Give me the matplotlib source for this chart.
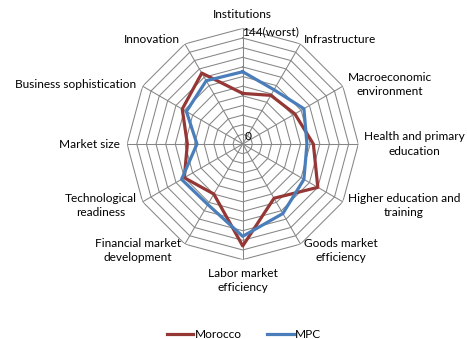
import numpy as np
import matplotlib
matplotlib.use("Agg")
import matplotlib.pyplot as plt

plt.rcParams['font.family'] = ['Lato', 'DejaVu Sans']

# pillars of the index, clockwise from the top
categories = ["Institutions", "Infrastructure", "Macroeconomic\nenvironment",
              "Health and primary\neducation", "Higher education and\ntraining",
              "Goods market\nefficiency", "Labor market\nefficiency",
              "Financial market\ndevelopment", "Technological\nreadiness",
              "Market size", "Business sophistication", "Innovation"]
morocco = [63, 70, 75, 88, 108, 78, 127, 72, 84, 69, 87, 102]
mpc = [90, 78, 88, 80, 88, 100, 115, 87, 88, 57, 81, 91]
rmax = 144
rings = np.arange(12, rmax + 1, 12)

# label placement (offset in pixels, alignment) per axis
label_pos = [((0, 8), 'center', 'bottom'),
             ((3, 4), 'left', 'center'),
             ((5, 2), 'left', 'center'),
             ((6, 0), 'left', 'center'),
             ((5, -4), 'left', 'center'),
             ((3, -6), 'left', 'center'),
             ((0, -8), 'center', 'top'),
             ((-4, -6), 'right', 'center'),
             ((-6, -4), 'right', 'center'),
             ((-7, 0), 'right', 'center'),
             ((-6, 2), 'right', 'center'),
             ((-5, 4), 'right', 'center')]

n = len(categories)
theta = np.arange(n) * 2 * np.pi / n
theta_closed = np.append(theta, theta[0])

fig = plt.figure(figsize=(4.67, 3.39), dpi=100)
ax = fig.add_axes([0.2722, 0.2342, 0.4951, 0.682], projection='polar')
ax.set_theta_zero_location('N')
ax.set_theta_direction(-1)
ax.set_ylim(0, rmax)
ax.set_xticks([])
ax.set_yticks([])
ax.grid(False)
ax.spines['polar'].set_visible(False)

grid_col = '#868686'
for r in rings:
    ax.plot(theta_closed, [r] * (n + 1), color=grid_col, lw=0.75, zorder=1)
for t in theta:
    ax.plot([t, t], [0, rmax], color=grid_col, lw=0.75, zorder=1)

ax.plot(theta_closed, morocco + morocco[:1], color='#953735', lw=2.3,
        label='Morocco', zorder=3)
ax.plot(theta_closed, mpc + mpc[:1], color='#4A7EBB', lw=2.3,
        label='MPC', zorder=3)

fs = 8.6
for t, lab, (off, ha, va) in zip(theta, categories, label_pos):
    ax.annotate(lab, xy=(t, rmax), xytext=off, textcoords='offset pixels',
                ha=ha, va=va, fontsize=fs, multialignment='center',
                linespacing=1.35, annotation_clip=False)

ax.annotate("144(worst)", xy=(0, rmax), xytext=(-1, -3), textcoords='offset pixels',
            ha='left', va='center', fontsize=fs, annotation_clip=False)
ax.annotate("0", xy=(0, 0), xytext=(2, 8), textcoords='offset pixels',
            ha='left', va='center', fontsize=fs, annotation_clip=False)

fig.legend(loc='lower center', bbox_to_anchor=(0.522, -0.035), ncol=2,
           frameon=False, fontsize=fs, handlelength=2.25, handletextpad=0.1,
           columnspacing=2.1)

fig.savefig("out.png", dpi=100)
